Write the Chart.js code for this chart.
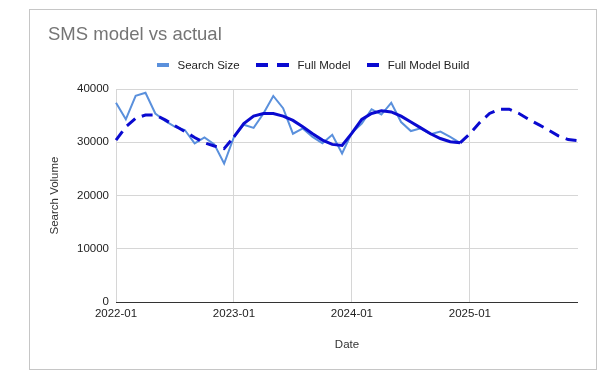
<!DOCTYPE html>
<html>
<head>
<meta charset="utf-8">
<script src="https://cdn.jsdelivr.net/npm/chart.js@4/dist/chart.umd.min.js"></script>
<style>
    body { margin: 0; background: #fff; font-family: 'Liberation Sans', Arial, sans-serif; }
    #card { position: absolute; left: 29px; top: 9px; width: 568px; height: 361px; box-sizing: border-box; border: 1px solid #c6c6c6; }
    #chart { position: absolute; left: 0; top: 0; }
    #legend { position: absolute; left: 29px; top: 57px; width: 568px; height: 16px; display: flex; justify-content: center; align-items: center; font-size: 11.5px; color: #222; }
    .item { display: flex; align-items: center; margin: 0 8px; }
    .sw { display: inline-block; width: 12px; height: 4px; margin-right: 9px; }
</style>
</head>
<body>
<div id="card"></div>
<canvas id="chart" width="607" height="375"></canvas>
<div id="legend"></div>
<script>
// months shown on the x axis
var months = [
    '2022-01', '2022-02', '2022-03', '2022-04', '2022-05', '2022-06', '2022-07', '2022-08', '2022-09', '2022-10', '2022-11', '2022-12',
    '2023-01', '2023-02', '2023-03', '2023-04', '2023-05', '2023-06', '2023-07', '2023-08', '2023-09', '2023-10', '2023-11', '2023-12',
    '2024-01', '2024-02', '2024-03', '2024-04', '2024-05', '2024-06', '2024-07', '2024-08', '2024-09', '2024-10', '2024-11', '2024-12',
    '2025-01', '2025-02', '2025-03', '2025-04', '2025-05', '2025-06', '2025-07', '2025-08', '2025-09', '2025-10', '2025-11', '2025-12'
];
var tickLabels = ['2022-01', '2023-01', '2024-01', '2025-01'];

var searchSize = [
    37400, 34300, 38700, 39300, 35400, 34000, 32900, 32300, 29800, 30900, 29600, 26000,
    31000, 33300, 32700, 35400, 38700, 36400, 31600, 32600, 31000, 29800, 31400, 27900,
    31800, 33500, 36200, 35200, 37400, 33800, 32100, 32600, 31500, 32000, 31000, 29900,
    null, null, null, null, null, null, null, null, null, null, null, null
];
var fullModel = [
    30400, 32900, 34500, 35100, 35100, 34200, 33100, 32000, 30900, 29900, 29300, 28800,
    31000, null, null, null, null, null, null, null, null, null, null, null,
    null, null, null, null, null, null, null, null, null, null, null, 29900,
    31600, 33700, 35400, 36200, 36200, 35400, 34300, 33300, 32300, 31200, 30500, 30300
];
var fullModelBuild = [
    null, null, null, null, null, null, null, null, null, null, null, null,
    31000, 33500, 34900, 35400, 35400, 34900, 34100, 32900, 31600, 30400, 29600, 29400,
    31700, 34300, 35400, 35900, 35700, 34900, 33800, 32700, 31600, 30700, 30100, 29900,
    null, null, null, null, null, null, null, null, null, null, null, null
];

Chart.defaults.font.family = "'Liberation Sans', Arial, sans-serif";
Chart.defaults.font.size = 11.5;
Chart.defaults.color = '#222';

var ctx = document.getElementById('chart').getContext('2d');
var chart = new Chart(ctx, {
    type: 'line',
    data: {
        labels: months,
        datasets: [
            {
                label: 'Search Size',
                data: searchSize,
                borderColor: '#5a90dc',
                backgroundColor: '#5a90dc',
                borderWidth: 2,
                pointRadius: 0,
                order: 3
            },
            {
                label: 'Full Model',
                data: fullModel,
                borderColor: '#0a0ad0',
                backgroundColor: '#0a0ad0',
                borderWidth: 3,
                borderDash: [11, 7],
                pointRadius: 0,
                order: 2
            },
            {
                label: 'Full Model Build',
                data: fullModelBuild,
                borderColor: '#0a0ad0',
                backgroundColor: '#0a0ad0',
                borderWidth: 3,
                pointRadius: 0,
                order: 1
            }
        ]
    },
    options: {
        responsive: false,
        animation: false,
        devicePixelRatio: 1,
        layout: { padding: { left: 48, top: 10, right: 29, bottom: 0 } },
        plugins: {
            legend: { display: false },
            tooltip: { enabled: false },
            title: {
                display: true,
                text: 'SMS model vs actual',
                align: 'start',
                color: '#757575',
                font: { size: 18.5, weight: 'normal' },
                padding: { top: 14, bottom: 42.8 }
            }
        },
        scales: {
            x: {
                afterFit: function (s) { s.height = 73; },
                border: { display: false },
                grid: {
                    drawTicks: false,
                    color: function (c) { return c.index % 12 === 0 ? '#d6d6d6' : 'rgba(0,0,0,0)'; }
                },
                ticks: {
                    autoSkip: false,
                    maxRotation: 0,
                    padding: 5,
                    callback: function (val, i) { return i % 12 === 0 ? tickLabels[i / 12] : ''; }
                },
                title: {
                    display: true,
                    text: 'Date',
                    color: '#333',
                    padding: { top: 0, bottom: 23 }
                }
            },
            y: {
                min: 0,
                max: 40000,
                afterFit: function (s) { s.width = 68; },
                border: { display: false },
                grid: {
                    drawTicks: false,
                    color: function (c) { return c.tick.value === 0 ? '#333' : '#d6d6d6'; }
                },
                ticks: {
                    stepSize: 10000,
                    padding: 7,
                    callback: function (v) { return String(v); }
                },
                title: {
                    display: true,
                    text: 'Search Volume',
                    color: '#333',
                    padding: { top: 0, bottom: 0 }
                }
            }
        }
    }
});

// html legend built from the datasets
var legend = document.getElementById('legend');
chart.data.datasets.forEach(function (ds) {
    var item = document.createElement('div');
    item.className = 'item';
    var n = ds.borderDash ? 2 : 1;
    for (var k = 0; k < n; k++) {
        var sw = document.createElement('span');
        sw.className = 'sw';
        sw.style.background = ds.borderColor;
        item.appendChild(sw);
    }
    var txt = document.createElement('span');
    txt.textContent = ds.label;
    item.appendChild(txt);
    legend.appendChild(item);
});
</script>
</body>
</html>
